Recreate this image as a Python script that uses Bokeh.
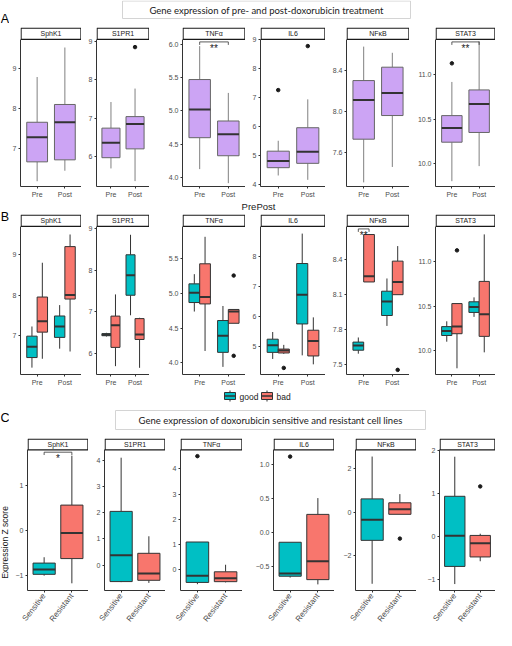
import math
from bokeh.plotting import figure
from bokeh.layouts import row, column
from bokeh.models import Range1d, FixedTicker, ColumnDataSource
from bokeh.embed import file_html
from bokeh.resources import INLINE
from bokeh.core.properties import value

# ---------------------------------------------------------------- data
GENES = ["SphK1", "S1PR1", "TNFα", "IL6", "NFκB", "STAT3"]

# Panel A: pre / post doxorubicin (per gene: [Pre, Post])
A_GROUPS = ["Pre", "Post"]
A_LOW  = [[6.20, 6.46], [5.69, 5.36], [4.13, 3.92], [4.30, 4.15], [7.31, 7.46], [9.80, 9.97]]
A_Q1   = [[6.68, 6.73], [5.97, 6.20], [4.60, 4.33], [4.57, 4.72], [7.73, 7.96], [10.24, 10.35]]
A_MED  = [[7.29, 7.66], [6.36, 6.85], [5.02, 4.65], [4.80, 5.12], [8.11, 8.18], [10.40, 10.67]]
A_Q3   = [[7.66, 8.10], [6.74, 7.04], [5.47, 4.85], [5.14, 5.95], [8.30, 8.43], [10.54, 10.83]]
A_HIGH = [[8.78, 9.51], [7.42, 7.77], [5.97, 5.27], [5.50, 6.93], [8.63, 8.57], [10.92, 11.38]]
A_OUT_GENE = [1, 3, 3, 5]
A_OUT_GROUP = [1, 0, 1, 0]
A_OUT_VALUE = [8.85, 7.25, 8.77, 11.13]
A_SIG = [(2, 0, 1, "**"), (5, 0, 1, "**")]          # gene, group a, group b, label
A_YMIN = [6.07, 5.22, 3.87, 3.92, 7.27, 9.74]
A_YMAX = [9.71, 9.05, 6.07, 9.00, 8.70, 11.40]
A_TICKS = [[7, 8, 9], [6, 7, 8, 9], [4.0, 4.5, 5.0, 5.5, 6.0], [4, 5, 6, 7, 8, 9],
           [7.6, 8.0, 8.4], [10.0, 10.5, 11.0]]
A_TICK_LABELS = [["7", "8", "9"], ["6", "7", "8", "9"], ["4.0", "4.5", "5.0", "5.5", "6.0"],
                 ["4", "5", "6", "7", "8", "9"], ["7.6", "8.0", "8.4"], ["10.0", "10.5", "11.0"]]

# Panel B: prognosis groups (per gene: [Pre-good, Pre-bad, Post-good, Post-bad])
B_GROUPS = ["good", "bad"]
B_LOW  = [[6.20, 6.42, 6.67, 6.60], [6.41, 5.70, 6.92, 5.66], [4.74, 4.17, 3.94, 4.57],
          [4.58, 4.75, 4.70, 4.40], [7.59, 8.21, 7.83, 8.10], [10.10, 9.80, 10.38, 9.98]]
B_Q1   = [[6.45, 7.08, 6.95, 7.90], [6.43, 6.15, 7.40, 6.34], [4.87, 4.85, 4.15, 4.57],
          [4.80, 4.78, 5.75, 4.68], [7.62, 8.21, 7.92, 8.10], [10.17, 10.19, 10.43, 10.16]]
B_MED  = [[6.72, 7.35, 7.22, 8.00], [6.45, 6.68, 7.88, 6.46], [5.01, 4.95, 4.39, 4.74],
          [5.04, 4.86, 6.73, 5.18], [7.66, 8.26, 8.04, 8.21], [10.22, 10.27, 10.49, 10.41]]
B_Q3   = [[6.98, 7.95, 7.48, 9.20], [6.48, 6.90, 8.37, 6.84], [5.14, 5.43, 4.61, 4.77],
          [5.24, 4.91, 7.77, 5.54], [7.69, 8.62, 8.13, 8.39], [10.27, 10.53, 10.55, 10.78]]
B_HIGH = [[7.22, 8.80, 7.75, 9.50], [6.50, 7.42, 8.85, 6.86], [5.28, 5.82, 4.82, 4.77],
          [5.48, 5.05, 8.77, 5.97], [7.73, 8.62, 8.24, 8.52], [10.33, 10.53, 10.60, 11.31]]
B_OUT_GENE = [2, 2, 3, 4, 5]
B_OUT_SLOT = [3, 3, 1, 3, 1]
B_OUT_VALUE = [5.26, 4.10, 4.28, 7.45, 11.13]
B_SIG = [(4, 0, 1, "**")]                            # gene, slot a, slot b, label
B_YMIN = [6.03, 5.50, 3.83, 4.06, 7.41, 9.73]
B_YMAX = [9.70, 9.05, 5.97, 9.01, 8.69, 11.40]
B_TICKS = [[7, 8, 9], [6, 7, 8, 9], [4.0, 4.5, 5.0, 5.5], [5, 6, 7, 8],
           [7.5, 7.8, 8.1, 8.4], [10.0, 10.5, 11.0]]
B_TICK_LABELS = [["7", "8", "9"], ["6", "7", "8", "9"], ["4.0", "4.5", "5.0", "5.5"],
                 ["5", "6", "7", "8"], ["7.5", "7.8", "8.1", "8.4"], ["10.0", "10.5", "11.0"]]

# Panel C: cell lines, Z scores (per gene: [Sensitive, Resistant])
C_GROUPS = ["Sensitive", "Resistant"]
C_LOW  = [[-1.00, -1.17], [-0.65, -0.68], [-0.57, -0.50], [-0.67, -0.77], [-3.30, -0.10], [-1.10, -0.57]]
C_Q1   = [[-0.97, -0.62], [-0.63, -0.58], [-0.50, -0.47], [-0.65, -0.70], [-1.30, -0.10], [-0.69, -0.47]]
C_MED  = [[-0.86, -0.05], [0.38, -0.32], [-0.24, -0.33], [-0.61, -0.43], [-0.35, 0.13], [0.02, -0.15]]
C_Q3   = [[-0.72, 0.57], [2.05, 0.45], [1.10, -0.08], [-0.15, 0.26], [0.61, 0.43], [0.94, 0.03]]
C_HIGH = [[-0.59, 1.67], [4.10, 1.10], [1.10, 0.20], [-0.15, 0.50], [2.56, 0.83], [1.86, 0.07]]
C_OUT_GENE = [2, 3, 4, 5]
C_OUT_GROUP = [0, 0, 1, 1]
C_OUT_VALUE = [4.50, 1.11, -1.22, 1.17]
C_SIG = [(0, 0, 1, "*")]
C_YMIN = [-1.33, -0.97, -0.82, -0.86, -3.61, -1.25]
C_YMAX = [1.80, 4.40, 4.75, 1.21, 2.87, 2.02]
C_TICKS = [[-1, 0, 1], [0, 1, 2, 3, 4], [0, 1, 2, 3, 4], [-0.5, 0.0, 0.5, 1.0], [-2, 0, 2], [-1, 0, 1, 2]]
C_TICK_LABELS = [["−1", "0", "1"], ["0", "1", "2", "3", "4"], ["0", "1", "2", "3", "4"],
                 ["−0.5", "0.0", "0.5", "1.0"], ["−2", "0", "2"], ["−1", "0", "1", "2"]]

TITLE_A = "Gene expression of pre- and post-doxorubicin treatment"
TITLE_C = "Gene expression of doxorubicin sensitive and resistant cell lines"
X_LABEL_A = "PrePost"
Y_LABEL_C = "Expression Z score"
PANEL_LETTERS = ["A", "B", "C"]

# ---------------------------------------------------------------- style
FONT = "Liberation Sans"
TITLE_FONT = "Lato"
PURPLE = "#CCA4F4"
TEAL = "#00BFC4"
SALMON = "#F8766D"
B_COLORS = [TEAL, SALMON]
C_COLORS = [TEAL, SALMON]
DARK = "#333333"
STRIP_H = 12
X_LO, X_HI = 0.4, 2.6

AB_WIDTHS = [72, 68, 96, 80, 84, 86]
AB_BORDERS = [8, 15, 33, 15, 21, 26]
C_WIDTHS = [79, 77, 77, 92, 82, 79]
C_BORDERS = [18, 16, 15, 31, 21, 23]

H_HEAD_A, H_HEAD_B, H_LEG, H_HEAD_C = 27, 14, 15, 35
A_FRAME, B_FRAME, C_FRAME = 160, 161, 161
A_BOTTOM, B_BOTTOM, C_BOTTOM = 13, 13, 30
COL_X0 = 9
COL_W = sum(AB_WIDTHS)
TOTAL_H = H_HEAD_A + A_FRAME + A_BOTTOM + H_HEAD_B + B_FRAME + B_BOTTOM + H_LEG + H_HEAD_C + C_FRAME + C_BOTTOM


def blank(width, height, x0=0):
    p = figure(width=width, height=height, x_range=Range1d(x0, x0 + width),
               y_range=Range1d(height, 0), output_backend="svg", toolbar_location=None,
               title=None, x_axis_type=None, y_axis_type=None,
               min_border_left=0, min_border_right=0, min_border_top=0, min_border_bottom=0)
    p.outline_line_color = None
    return p


def facet(gene, width, border, frame_h, bottom, ymin, ymax, ticks, tlabels,
          xs, bw, low, q1, med, q3, high, fills, line_col, whisk_col,
          out_x, out_y, sigs, xlabels, orient=None):
    plot_h = frame_h - STRIP_H
    frame_w = width - border
    dy = (ymax - ymin) / plot_h
    dx = (X_HI - X_LO) / frame_w
    ytop = ymax + STRIP_H * dy
    p = figure(width=width, height=frame_h + bottom, x_range=Range1d(X_LO, X_HI),
               y_range=Range1d(ymin, ytop), output_backend="svg", toolbar_location=None,
               title=None, min_border_left=border, min_border_right=0,
               min_border_top=0, min_border_bottom=bottom)
    p.outline_line_color = None
    p.grid.visible = False
    # strip
    p.quad(left=[X_LO + 0.6 * dx], right=[X_HI - 0.6 * dx], bottom=[ymax], top=[ytop - 0.6 * dy],
           fill_color="white", line_color="#1a1a1a", line_width=1.2)
    p.text(x=[(X_LO + X_HI) / 2], y=[ymax + STRIP_H * dy / 2], text=[gene],
           text_align="center", text_baseline="middle", text_font=value(FONT),
           text_font_size="7px", text_color="#1a1a1a")
    src = ColumnDataSource(dict(x=xs, left=[x - bw / 2 for x in xs], right=[x + bw / 2 for x in xs],
                                low=low, q1=q1, med=med, q3=q3, high=high, fill=fills))
    p.segment(x0="x", y0="low", x1="x", y1="q1", source=src, line_color=whisk_col, line_width=1)
    p.segment(x0="x", y0="q3", x1="x", y1="high", source=src, line_color=whisk_col, line_width=1)
    p.vbar(x="x", width=bw, bottom="q1", top="q3", fill_color="fill", line_color=line_col,
           line_width=1, source=src)
    p.segment(x0="left", y0="med", x1="right", y1="med", source=src, line_color=DARK, line_width=2)
    if out_x:
        p.scatter(out_x, out_y, size=3.5, color="#1a1a1a")
    for (x0, x1, txt) in sigs:
        yl = ymax - 2.5 * dy
        yd = yl - 3 * dy
        p.line([x0, x0, x1, x1], [yd, yl, yl, yd], line_color=DARK, line_width=0.8)
        p.text(x=[(x0 + x1) / 2], y=[yl - 1.0 * dy], text=[txt], text_align="center",
               text_baseline="top", text_font=value(FONT), text_font_size="10px",
               text_color="#1a1a1a")
    for ax in (p.xaxis[0], p.yaxis[0]):
        ax.axis_line_color = DARK
        ax.axis_line_width = 1
        ax.major_tick_line_color = DARK
        ax.major_tick_in = 0
        ax.major_tick_out = 2
        ax.minor_tick_line_color = None
        ax.major_label_text_font = FONT
        ax.major_label_text_font_size = "7px"
        ax.major_label_text_color = "#4d4d4d"
        ax.major_label_standoff = 2
    p.yaxis[0].ticker = FixedTicker(ticks=ticks)
    p.yaxis[0].major_label_overrides = dict(zip(ticks, tlabels))
    p.yaxis[0].bounds = (ymin, ymax)
    p.xaxis[0].ticker = FixedTicker(ticks=[1, 2])
    p.xaxis[0].major_label_overrides = {1: xlabels[0], 2: xlabels[1]}
    if orient is not None:
        p.xaxis[0].major_label_orientation = orient
        p.xaxis[0].major_label_text_font_size = "8px"
    return p


# ---------------------------------------------------------------- panel A
row_a = []
for g in range(6):
    ox = [A_OUT_GROUP[k] + 1 for k in range(len(A_OUT_GENE)) if A_OUT_GENE[k] == g]
    oy = [A_OUT_VALUE[k] for k in range(len(A_OUT_GENE)) if A_OUT_GENE[k] == g]
    sigs = [(s[1] + 1, s[2] + 1, s[3]) for s in A_SIG if s[0] == g]
    row_a.append(facet(GENES[g], AB_WIDTHS[g], AB_BORDERS[g], A_FRAME, A_BOTTOM,
                       A_YMIN[g], A_YMAX[g], A_TICKS[g], A_TICK_LABELS[g],
                       [1, 2], 0.75, A_LOW[g], A_Q1[g], A_MED[g], A_Q3[g], A_HIGH[g],
                       [PURPLE, PURPLE], "#666666", "#808080", ox, oy, sigs, A_GROUPS))

# ---------------------------------------------------------------- panel B
B_X = [1 - 0.1875, 1 + 0.1875, 2 - 0.1875, 2 + 0.1875]
row_b = []
for g in range(6):
    ox = [B_X[B_OUT_SLOT[k]] for k in range(len(B_OUT_GENE)) if B_OUT_GENE[k] == g]
    oy = [B_OUT_VALUE[k] for k in range(len(B_OUT_GENE)) if B_OUT_GENE[k] == g]
    sigs = [(B_X[s[1]], B_X[s[2]], s[3]) for s in B_SIG if s[0] == g]
    row_b.append(facet(GENES[g], AB_WIDTHS[g], AB_BORDERS[g], B_FRAME, B_BOTTOM,
                       B_YMIN[g], B_YMAX[g], B_TICKS[g], B_TICK_LABELS[g],
                       B_X, 0.375, B_LOW[g], B_Q1[g], B_MED[g], B_Q3[g], B_HIGH[g],
                       B_COLORS * 2, DARK, DARK, ox, oy, sigs, A_GROUPS))

# ---------------------------------------------------------------- panel C
row_c = []
for g in range(6):
    ox = [C_OUT_GROUP[k] + 1 for k in range(len(C_OUT_GENE)) if C_OUT_GENE[k] == g]
    oy = [C_OUT_VALUE[k] for k in range(len(C_OUT_GENE)) if C_OUT_GENE[k] == g]
    sigs = [(s[1] + 1, s[2] + 1, s[3]) for s in C_SIG if s[0] == g]
    row_c.append(facet(GENES[g], C_WIDTHS[g], C_BORDERS[g], C_FRAME, C_BOTTOM,
                       C_YMIN[g], C_YMAX[g], C_TICKS[g], C_TICK_LABELS[g],
                       [1, 2], 0.8, C_LOW[g], C_Q1[g], C_MED[g], C_Q3[g], C_HIGH[g],
                       C_COLORS, DARK, DARK, ox, oy, sigs, C_GROUPS,
                       orient=math.radians(52)))

# ---------------------------------------------------------------- headers
head_a = blank(COL_W, H_HEAD_A, COL_X0)
head_a.quad(left=[122], right=[410], top=[0.5], bottom=[18], fill_color="white",
            line_color="#d4d4d4", line_width=1)
head_a.text(x=[266], y=[9.5], text=[TITLE_A], text_align="center", text_baseline="middle",
            text_font=value(TITLE_FONT), text_font_size="9.5px", text_color="#1a1a1a")

head_b = blank(COL_W, H_HEAD_B, COL_X0)
head_b.text(x=[258], y=[0], text=[X_LABEL_A], text_align="center", text_baseline="top",
            text_font=value(FONT), text_font_size="9.5px", text_color="#1a1a1a")

leg = blank(COL_W, H_LEG, COL_X0)
KEY_L = [224, 261]
KEY_W = 11
for i, name in enumerate(B_GROUPS):
    l = KEY_L[i]
    leg.segment(x0=[l + KEY_W / 2], y0=[2], x1=[l + KEY_W / 2], y1=[13], line_color=DARK, line_width=1)
    leg.quad(left=[l], right=[l + KEY_W], top=[4], bottom=[11], fill_color=B_COLORS[i],
             line_color=DARK, line_width=1)
    leg.segment(x0=[l], y0=[7.5], x1=[l + KEY_W], y1=[7.5], line_color=DARK, line_width=1.5)
    leg.text(x=[l + KEY_W + 4], y=[8], text=[name], text_align="left", text_baseline="middle",
             text_font=value(FONT), text_font_size="8.5px", text_color="#1a1a1a")

head_c = blank(COL_W, H_HEAD_C, COL_X0)
head_c.quad(left=[115], right=[425], top=[7], bottom=[26], fill_color="white",
            line_color="#d4d4d4", line_width=1)
head_c.text(x=[270], y=[16.5], text=[TITLE_C], text_align="center", text_baseline="middle",
            text_font=value(TITLE_FONT), text_font_size="9.5px", text_color="#1a1a1a")

# ---------------------------------------------------------------- left column (letters, y label)
left = blank(COL_X0, TOTAL_H, 0)
left.text(x=[4.5, 4.5, 4.5], y=[18, 216.5, 417.5], text=PANEL_LETTERS, text_align="center",
          text_baseline="middle", text_font=value(FONT), text_font_size="12.5px",
          text_color="#000000")
left.text(x=[4.5], y=[542], text=[Y_LABEL_C], angle=math.pi / 2, text_align="center",
          text_baseline="middle", text_font=value(FONT), text_font_size="8.5px",
          text_color="#1a1a1a")

layout = row(left, column(head_a, row(*row_a), head_b, row(*row_b), leg, head_c, row(*row_c)))

open("out.html", "w").write(file_html(layout, INLINE))
